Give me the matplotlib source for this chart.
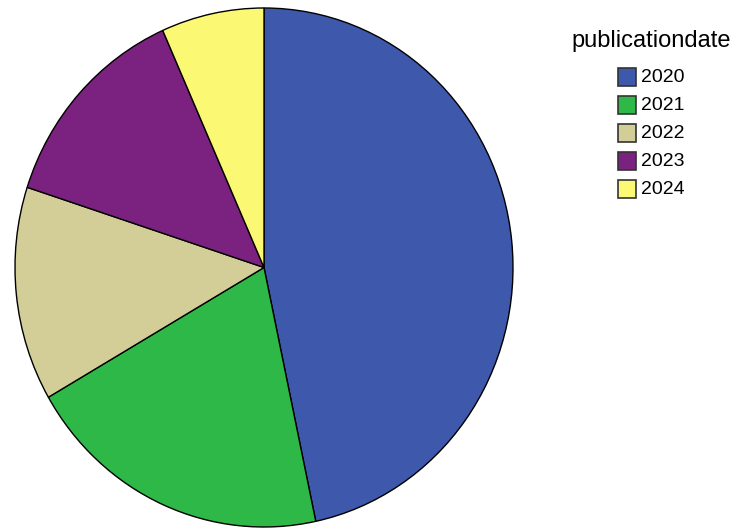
import matplotlib.pyplot as plt
from matplotlib.patches import Rectangle

plt.rcParams['font.family'] = ['Liberation Sans', 'DejaVu Sans']

# publication counts per year
years = ['2020', '2021', '2022', '2023', '2024']
counts = [7, 3, 2, 2, 1]
colors = ['#3E58AC', '#2EB848', '#D3CE97', '#7B2180', '#FBF873']

W, H = 740, 529
fig = plt.figure(figsize=(W / 100, H / 100), dpi=100)

# pie is slightly stretched vertically in the reference
cx, cy, rx, ry = 264, 267.5, 249, 259.5
ax = fig.add_axes([(cx - rx) / W, (H - cy - ry) / H, 2 * rx / W, 2 * ry / H])
ax.pie(counts, colors=colors, startangle=90, counterclock=False, radius=1,
       wedgeprops=dict(edgecolor='black', linewidth=1.0))
ax.set_xlim(-1, 1)
ax.set_ylim(-1, 1)
ax.set_aspect('auto')
ax.axis('off')

# legend drawn by hand to match the layout
fig.text(651 / W, 1 - 41 / H, 'publicationdate', fontsize=17, ha='center', va='center')
for i, (yr, c) in enumerate(zip(years, colors)):
    yc = 77 + i * 28
    fig.patches.append(Rectangle((618 / W, 1 - (yc + 9) / H), 18 / W, 18 / H,
                                 facecolor=c, edgecolor='#333333', linewidth=1.2,
                                 transform=fig.transFigure))
    fig.text(641 / W, 1 - yc / H, yr, fontsize=14, ha='left', va='center')

fig.savefig('out.png', dpi=100)
